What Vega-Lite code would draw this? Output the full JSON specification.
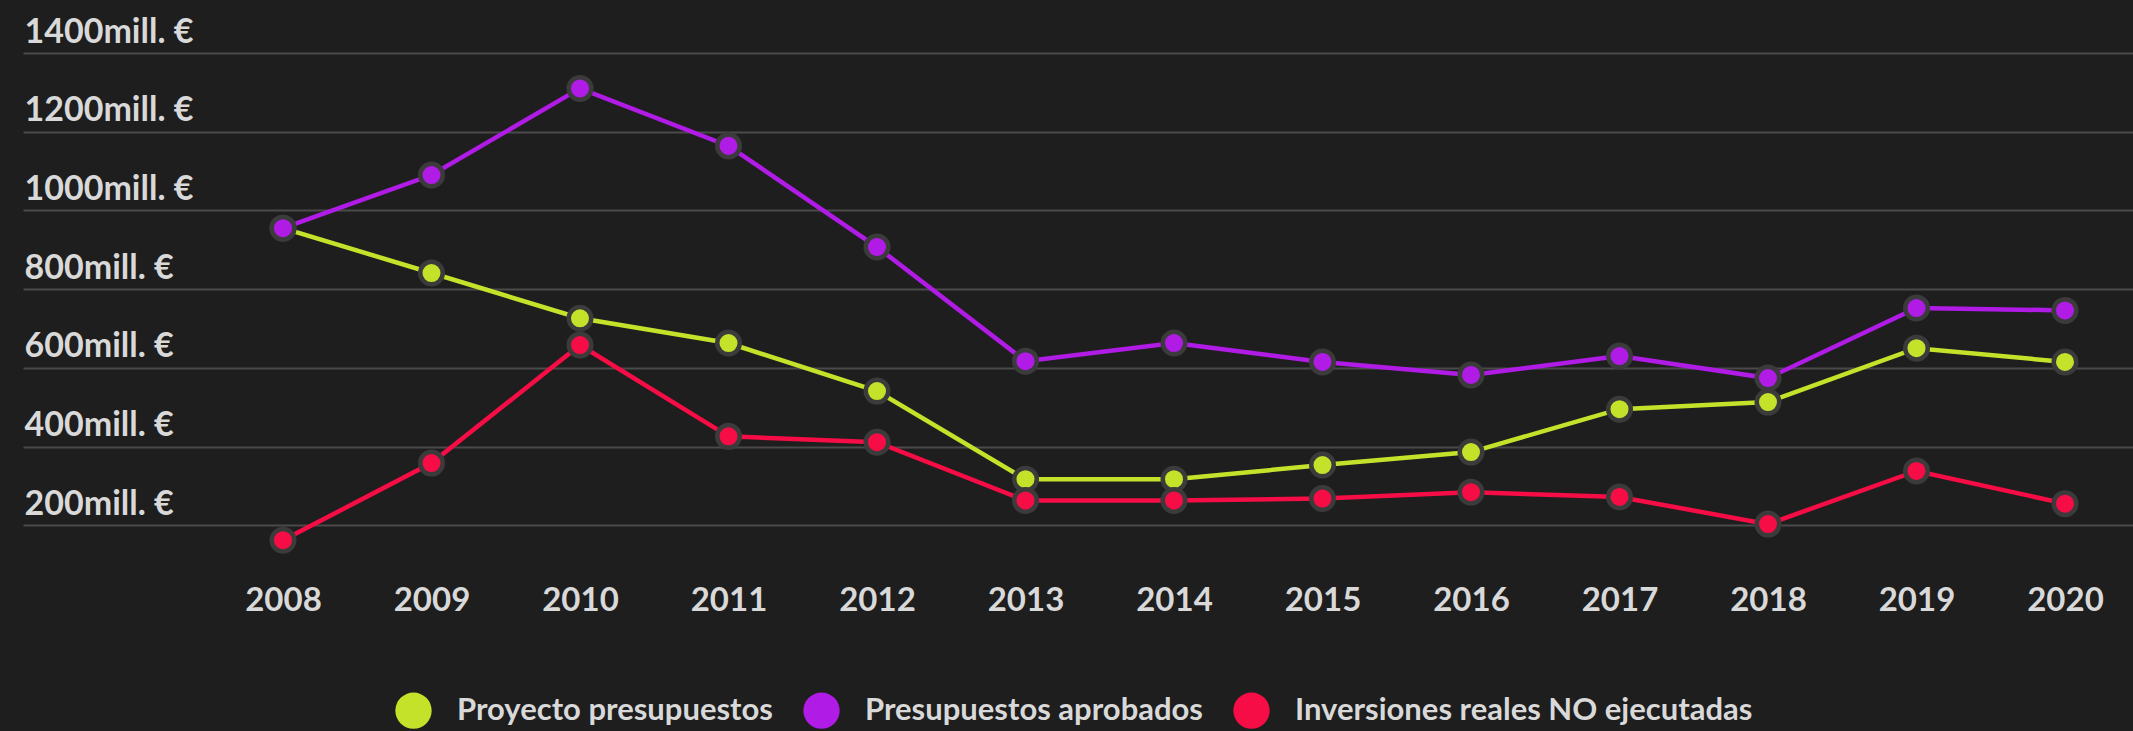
{
  "$schema": "https://vega.github.io/schema/vega-lite/v6.json",
  "width": 2110,
  "height": 551,
  "autosize": {"type": "none"},
  "padding": {"left": 23, "top": 53, "right": 0, "bottom": 127},
  "background": "#1e1e1e",
  "config": {
    "view": {"stroke": null},
    "font": "Lato"
  },
  "data": {
    "values": [
      {"year": 2008, "serie": "Proyecto presupuestos", "valor": 955},
      {"year": 2009, "serie": "Proyecto presupuestos", "valor": 841},
      {"year": 2010, "serie": "Proyecto presupuestos", "valor": 726},
      {"year": 2011, "serie": "Proyecto presupuestos", "valor": 663},
      {"year": 2012, "serie": "Proyecto presupuestos", "valor": 541},
      {"year": 2013, "serie": "Proyecto presupuestos", "valor": 317},
      {"year": 2014, "serie": "Proyecto presupuestos", "valor": 317},
      {"year": 2015, "serie": "Proyecto presupuestos", "valor": 353},
      {"year": 2016, "serie": "Proyecto presupuestos", "valor": 386},
      {"year": 2017, "serie": "Proyecto presupuestos", "valor": 495},
      {"year": 2018, "serie": "Proyecto presupuestos", "valor": 513},
      {"year": 2019, "serie": "Proyecto presupuestos", "valor": 650},
      {"year": 2020, "serie": "Proyecto presupuestos", "valor": 615},
      {"year": 2008, "serie": "Presupuestos aprobados", "valor": 955},
      {"year": 2009, "serie": "Presupuestos aprobados", "valor": 1090},
      {"year": 2010, "serie": "Presupuestos aprobados", "valor": 1310},
      {"year": 2011, "serie": "Presupuestos aprobados", "valor": 1164},
      {"year": 2012, "serie": "Presupuestos aprobados", "valor": 907},
      {"year": 2013, "serie": "Presupuestos aprobados", "valor": 617},
      {"year": 2014, "serie": "Presupuestos aprobados", "valor": 663},
      {"year": 2015, "serie": "Presupuestos aprobados", "valor": 615},
      {"year": 2016, "serie": "Presupuestos aprobados", "valor": 582},
      {"year": 2017, "serie": "Presupuestos aprobados", "valor": 630},
      {"year": 2018, "serie": "Presupuestos aprobados", "valor": 574},
      {"year": 2019, "serie": "Presupuestos aprobados", "valor": 752},
      {"year": 2020, "serie": "Presupuestos aprobados", "valor": 746},
      {"year": 2008, "serie": "Inversiones reales NO ejecutadas", "valor": 162},
      {"year": 2009, "serie": "Inversiones reales NO ejecutadas", "valor": 358},
      {"year": 2010, "serie": "Inversiones reales NO ejecutadas", "valor": 658},
      {"year": 2011, "serie": "Inversiones reales NO ejecutadas", "valor": 426},
      {"year": 2012, "serie": "Inversiones reales NO ejecutadas", "valor": 411},
      {"year": 2013, "serie": "Inversiones reales NO ejecutadas", "valor": 263},
      {"year": 2014, "serie": "Inversiones reales NO ejecutadas", "valor": 263},
      {"year": 2015, "serie": "Inversiones reales NO ejecutadas", "valor": 268},
      {"year": 2016, "serie": "Inversiones reales NO ejecutadas", "valor": 284},
      {"year": 2017, "serie": "Inversiones reales NO ejecutadas", "valor": 272},
      {"year": 2018, "serie": "Inversiones reales NO ejecutadas", "valor": 203},
      {"year": 2019, "serie": "Inversiones reales NO ejecutadas", "valor": 338},
      {"year": 2020, "serie": "Inversiones reales NO ejecutadas", "valor": 255}
    ]
  },
  "encoding": {
    "x": {
      "field": "year",
      "type": "quantitative",
      "scale": {"domain": [2006.2492, 2020.4579], "nice": false, "zero": false},
      "axis": {
        "title": null,
        "values": [2008, 2009, 2010, 2011, 2012, 2013, 2014, 2015, 2016, 2017, 2018, 2019, 2020],
        "format": "d",
        "labelAngle": 0,
        "domain": false,
        "ticks": false,
        "grid": false,
        "labelFont": "Lato",
        "labelFontWeight": "bold",
        "labelFontSize": 33,
        "labelColor": "#d9d9d9",
        "labelBaseline": "middle",
        "labelPadding": -4,
        "labelFlush": false,
        "labelOverlap": false
      }
    },
    "y": {
      "field": "valor",
      "type": "quantitative",
      "scale": {"domain": [0, 1400], "nice": false, "zero": true},
      "axis": {
        "title": null,
        "values": [200, 400, 600, 800, 1000, 1200, 1400],
        "labelExpr": "datum.value + 'mill. €'",
        "domain": false,
        "ticks": false,
        "grid": true,
        "gridColor": "#4a4a4a",
        "gridWidth": 2,
        "labelAlign": "left",
        "labelBaseline": "alphabetic",
        "labelPadding": -1,
        "labelOffset": -11,
        "labelFont": "Lato",
        "labelFontWeight": "bold",
        "labelFontSize": 34,
        "labelColor": "#d9d9d9"
      }
    },
    "color": {
      "field": "serie",
      "type": "nominal",
      "scale": {
        "domain": ["Proyecto presupuestos", "Presupuestos aprobados", "Inversiones reales NO ejecutadas"],
        "range": ["#c5e22b", "#b11be6", "#f70d45"]
      },
      "legend": {
        "title": null,
        "orient": "none",
        "direction": "horizontal",
        "legendX": 372,
        "legendY": 639,
        "symbolType": "circle",
        "symbolSize": 1320,
        "symbolStrokeWidth": 0,
        "symbolOpacity": 1,
        "labelFont": "Lato",
        "labelFontWeight": "bold",
        "labelFontSize": 31,
        "labelColor": "#d9d9d9",
        "labelOffset": 25,
        "columnPadding": 30,
        "labelLimit": 0
      }
    }
  },
  "layer": [
    {
      "mark": {"type": "line", "strokeWidth": 4.5, "interpolate": "linear"}
    },
    {
      "mark": {"type": "point", "filled": true, "size": 507, "stroke": "#3b3b3b", "strokeWidth": 4.5, "opacity": 1}
    }
  ]
}
